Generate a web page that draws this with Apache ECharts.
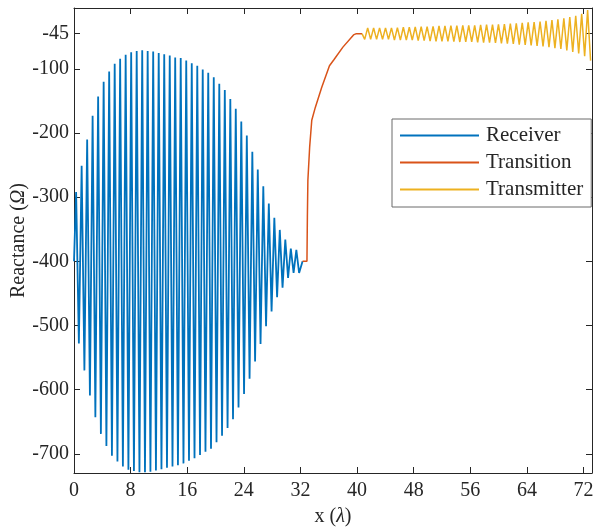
<!DOCTYPE html>
<html>
<head>
<meta charset="utf-8">
<script src="https://cdn.jsdelivr.net/npm/echarts@6/dist/echarts.min.js"></script>
<style>
html,body{margin:0;padding:0;background:#fff;}
#chart{width:593px;height:529px;}
</style>
</head>
<body>
<div id="chart"></div>
<script>
// ---- data ----
const xTicks = [0, 8, 16, 24, 32, 40, 48, 56, 64, 72];
const yTicks = [-700, -600, -500, -400, -300, -200, -100, -45];

const receiverX = [0,
  0.30, 0.69, 1.08, 1.47, 1.86, 2.25, 2.63, 3.02, 3.41, 3.80,
  4.19, 4.58, 4.97, 5.36, 5.75, 6.14, 6.52, 6.91, 7.30, 7.69,
  8.08, 8.47, 8.86, 9.25, 9.64, 10.03, 10.41, 10.80, 11.19, 11.58,
  11.97, 12.36, 12.75, 13.14, 13.53, 13.92, 14.30, 14.69, 15.08, 15.47,
  15.86, 16.25, 16.64, 17.03, 17.42, 17.81, 18.19, 18.58, 18.97, 19.36,
  19.75, 20.14, 20.53, 20.92, 21.31, 21.70, 22.09, 22.47, 22.86, 23.25,
  23.64, 24.03, 24.42, 24.81, 25.20, 25.59, 25.97, 26.36, 26.75, 27.14,
  27.53, 27.92, 28.31, 28.70, 29.08, 29.47, 29.86, 30.25, 30.64, 31.03,
  31.42, 31.81, 32.30];
const receiverY = [-400,
  -292, -528, -251, -570, -210, -609, -173, -643, -143, -669,
  -120, -688, -104, -703, -92, -712, -84, -720, -78, -725,
  -74, -727, -72, -729, -71, -729, -72, -728, -73, -726,
  -75, -724, -77, -722, -79, -720, -82, -718, -83, -715,
  -87, -711, -91, -707, -95, -702, -101, -697, -106, -692,
  -113, -682, -123, -672, -133, -660, -147, -646, -162, -628,
  -182, -607, -204, -583, -229, -556, -257, -529, -283, -501,
  -310, -478, -332, -456, -351, -441, -366, -426, -380, -418,
  -382, -418, -400];

const transitionX = [32.30, 32.92, 32.98, 33.05, 33.3, 33.6, 34.1, 35.0, 36.1, 36.7, 38.0, 39.5, 39.9, 40.70];
const transitionY = [-400, -400, -330, -274, -222, -180, -160, -129, -95, -86, -66, -47, -45, -45];

const transmitterX = [40.70,
  41.08, 41.50, 41.92, 42.34, 42.76, 43.18, 43.60, 44.02, 44.44, 44.86,
  45.28, 45.70, 46.12, 46.54, 46.96, 47.38, 47.80, 48.22, 48.64, 49.06,
  49.48, 49.90, 50.32, 50.74, 51.16, 51.58, 52.00, 52.42, 52.84, 53.26,
  53.68, 54.10, 54.52, 54.94, 55.36, 55.78, 56.20, 56.62, 57.04, 57.46,
  57.88, 58.30, 58.72, 59.14, 59.56, 59.98, 60.40, 60.82, 61.24, 61.66,
  62.08, 62.50, 62.92, 63.34, 63.76, 64.18, 64.60, 65.02, 65.44, 65.86,
  66.28, 66.70, 67.12, 67.54, 67.96, 68.38, 68.80, 69.22, 69.64, 70.06,
  70.48, 70.90, 71.32, 71.74, 72.16, 72.58, 73.00];
const transmitterY = [-45,
  -54, -36, -54, -36, -54, -36, -54, -36, -54, -36,
  -55, -35.5, -55, -35, -55, -35, -55, -34.5, -56, -34,
  -56, -34, -56.5, -33.5, -57, -33, -57, -33, -57, -32.5,
  -57.5, -32.5, -58, -32, -58, -32, -58, -32, -58.5, -31.5,
  -59, -31, -59, -31, -59.5, -30.5, -60, -30, -60.5, -29.5,
  -61, -29, -62, -28, -62.5, -27.5, -63.5, -27, -64, -26,
  -65, -25, -66, -24, -67.5, -22.5, -69, -21, -71, -19,
  -73.5, -17, -76, -14, -80, -8, -87];

const seriesNames = ['Receiver', 'Transition', 'Transmitter'];
const seriesColors = ['#0072BD', '#D95319', '#EDB120'];

function pairs(xs, ys) { return xs.map((x, i) => [x, ys[i]]); }

const FONT = 'Liberation Serif';
const AX = '#262626';
const X_MIN = 0, X_MAX = 73.2, Y_MIN = -730, Y_MAX = -5;

const chart = echarts.init(document.getElementById('chart'), null, {renderer: 'canvas'});

function xAxisCfg(pos, labels) {
  return {
    type: 'value', position: pos, min: X_MIN, max: X_MAX,
    axisLine: {show: true, onZero: false, lineStyle: {color: AX, width: 1}},
    axisTick: {show: true, inside: true, length: 6, customValues: xTicks, lineStyle: {color: AX}},
    axisLabel: {show: labels, customValues: xTicks, margin: 8, fontFamily: FONT, fontSize: 20, color: AX},
    splitLine: {show: false}
  };
}
function yAxisCfg(pos, labels) {
  return {
    type: 'value', position: pos, min: Y_MIN, max: Y_MAX,
    axisLine: {show: true, onZero: false, lineStyle: {color: AX, width: 1}},
    axisTick: {show: true, inside: true, length: 6, customValues: yTicks, lineStyle: {color: AX}},
    axisLabel: {show: labels, customValues: yTicks, margin: 5, fontFamily: FONT, fontSize: 20, color: AX},
    splitLine: {show: false}
  };
}

const xMain = xAxisCfg('bottom', true);
xMain.name = '{n|x (}{i|λ}{n|)}';
xMain.nameLocation = 'middle';
xMain.nameGap = 34;
xMain.nameMoveOverlap = false;
xMain.nameTextStyle = {rich: {
  n: {fontFamily: FONT, fontSize: 20, color: AX},
  i: {fontFamily: FONT, fontSize: 20, color: AX, fontStyle: 'italic'}
}};
const yMain = yAxisCfg('left', true);
yMain.name = '{n|Reactance (}{i|Ω}{n|)}';
yMain.nameLocation = 'middle';
yMain.nameGap = 45;
yMain.nameMoveOverlap = false;
yMain.nameTextStyle = {rich: {
  n: {fontFamily: FONT, fontSize: 20, color: AX},
  i: {fontFamily: FONT, fontSize: 20, color: AX, fontStyle: 'italic'}
}};

const option = {
  animation: false,
  backgroundColor: '#fff',
  grid: {left: 74, right: 1, top: 8, bottom: 56, containLabel: false, outerBoundsMode: 'none'},
  xAxis: [xMain, xAxisCfg('top', false)],
  yAxis: [yMain, yAxisCfg('right', false)],
  legend: {
    orient: 'vertical',
    left: 392, top: 119,
    width: 200,
    padding: [6, 8, 7, 8],
    itemGap: 6,
    itemWidth: 79, itemHeight: 2,
    icon: 'rect',
    borderColor: '#6b6b6b', borderWidth: 1,
    backgroundColor: '#fff',
    textStyle: {fontFamily: FONT, fontSize: 21, color: AX, padding: [0, 0, 0, 2], width: 100},
    data: seriesNames
  },
  series: [
    {name: seriesNames[0], type: 'line', data: pairs(receiverX, receiverY), showSymbol: false, symbol: 'none',
     lineStyle: {color: seriesColors[0], width: 1.8}, itemStyle: {color: seriesColors[0]}, z: 2},
    {name: seriesNames[1], type: 'line', data: pairs(transitionX, transitionY), showSymbol: false, symbol: 'none',
     lineStyle: {color: seriesColors[1], width: 1.5}, itemStyle: {color: seriesColors[1]}, z: 3},
    {name: seriesNames[2], type: 'line', data: pairs(transmitterX, transmitterY), showSymbol: false, symbol: 'none',
     lineStyle: {color: seriesColors[2], width: 1.5}, itemStyle: {color: seriesColors[2]}, z: 4}
  ]
};
chart.setOption(option);
</script>
</body>
</html>
